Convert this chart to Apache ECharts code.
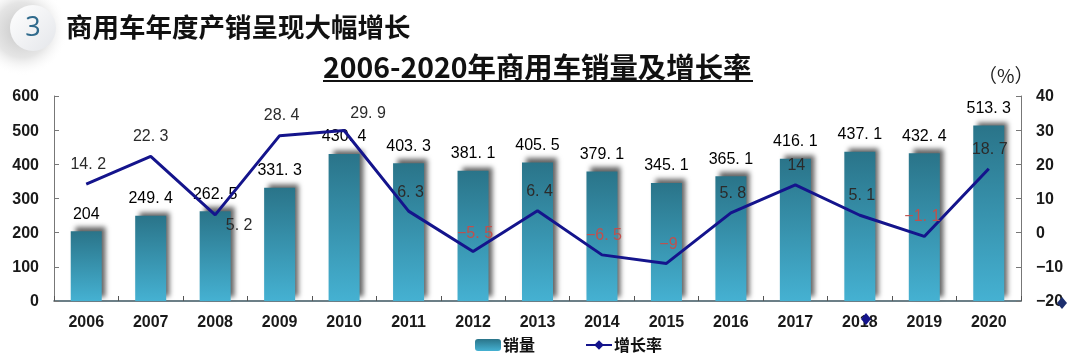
<!DOCTYPE html>
<html><head><meta charset="utf-8">
<style>html,body{margin:0;padding:0;background:#fff}#c{width:1080px;height:358px}</style>
<script src="https://cdn.jsdelivr.net/npm/echarts@6/dist/echarts.min.js"></script>
</head><body><div id="c"></div>
<script>
const years = ['2006','2007','2008','2009','2010','2011','2012','2013','2014','2015','2016','2017','2018','2019','2020'];
const sales = [204,249.4,262.5,331.3,430.4,403.3,381.1,405.5,379.1,345.1,365.1,416.1,437.1,432.4,513.3];
const growth = [14.2,22.3,5.2,28.4,29.9,6.3,-5.5,6.4,-6.5,-9,5.8,14,5.1,-1.1,18.7];
const growthLabelShift = [[2,-20],[0,-20],[24,11],[2,-20],[24,-17],[2,-19],[2,-18],[2,-19],[2,-19],[2,-19],[2,-19],[1,-19],[2,-20],[-2,-20],[1,-19]];
const labelFont = '"Liberation Sans","Arimo",sans-serif';
const sans = '"Noto Sans CJK SC","Liberation Sans",sans-serif';
const axisFont = {fontFamily:'"Liberation Sans",sans-serif',fontWeight:'bold',fontSize:16,color:'#1a1a1a'};
const chart = echarts.init(document.getElementById('c'),null,{renderer:'canvas'});
chart.setOption({
  animation:false,
  backgroundColor:'#fff',
  grid:{left:54,right:59,top:96,bottom:57},
  title:[
    {text:'商用车年度产销呈现大幅增长',left:61,top:9,textStyle:{fontFamily:sans,fontWeight:'bold',fontSize:26.5,color:'#111'}},
    {text:'2006-2020年商用车销量及增长率',left:318,top:48,textStyle:{fontFamily:sans,fontWeight:'bold',fontSize:28.4,color:'#111'}},
    {text:'（%）',left:973,top:61,textStyle:{fontFamily:sans,fontWeight:'normal',fontSize:19,color:'#222'}}
  ],
  legend:{bottom:0,left:470,itemGap:50,itemWidth:26,itemHeight:12,
    textStyle:{fontFamily:sans,fontWeight:'bold',fontSize:16,color:'#111',padding:[0,0,0,-3]},
    data:['销量','增长率']},
  xAxis:{type:'category',data:years,
    axisLine:{lineStyle:{color:'#3d5560',width:1.5}},
    axisTick:{show:true,inside:true,length:5,alignWithLabel:false,lineStyle:{color:'#555'}},
    axisLabel:{...axisFont,margin:14,interval:0}},
  yAxis:[
    {type:'value',min:0,max:600,interval:100,
      axisLine:{show:true,lineStyle:{color:'#777'}},
      axisTick:{show:true,inside:true,length:5,lineStyle:{color:'#777'}},
      splitLine:{show:false},axisLabel:{...axisFont,margin:15,verticalAlign:'top',lineHeight:2}},
    {type:'value',min:-20,max:40,interval:10,position:'right',
      axisLine:{show:true,lineStyle:{color:'#777'}},
      axisTick:{show:true,inside:true,length:5,lineStyle:{color:'#777'}},
      splitLine:{show:false},axisLabel:{...axisFont,margin:15,verticalAlign:'top',lineHeight:2,
        formatter:v=>String(v).replace('-','−')}}
  ],
  series:[
    {name:'销量',type:'bar',yAxisIndex:0,data:sales,barWidth:31,z:2,
      itemStyle:{
        color:new echarts.graphic.LinearGradient(0,0,0,1,[{offset:0,color:'#2a7489'},{offset:1,color:'#45b1d2'}]),
        shadowColor:'rgba(60,60,60,0.8)',shadowBlur:5,shadowOffsetX:4,shadowOffsetY:-4},
      label:{show:true,position:'top',distance:9,fontFamily:labelFont,fontSize:16,color:'#000',
        formatter:p=>String(p.value).replace('.','. ')}},
    {name:'增长率',type:'line',yAxisIndex:1,data:growth.map((v,i)=>({value:v,
        label:{offset:growthLabelShift[i],color:v<0?'#c0504d':'#2b2b2b'}})),
      symbol:'diamond',symbolSize:0,showSymbol:true,z:5,
      lineStyle:{color:'#14148c',width:3},itemStyle:{color:'#14148c'},
      label:{show:true,position:'inside',fontFamily:labelFont,fontSize:16,
        formatter:p=>String(p.value).replace('.','. ').replace('-','−')}}
  ],
  graphic:[
    {type:'circle',z:-2,shape:{cx:22,cy:30,r:46},style:{fill:new echarts.graphic.RadialGradient(0.5,0.5,0.5,[{offset:0,color:'rgba(175,175,175,0.75)'},{offset:0.6,color:'rgba(190,190,190,0.4)'},{offset:1,color:'rgba(255,255,255,0)'}])}},
    {type:'circle',z:-1,shape:{cx:33,cy:28,r:23},style:{fill:new echarts.graphic.LinearGradient(0,0,1,1,[{offset:0,color:'#fff'},{offset:1,color:'#e4e6ea'}])}},
    {type:'text',z:1,style:{x:33,y:28,text:'3',align:'center',verticalAlign:'middle',font:'27px "Open Sans",sans-serif',fill:'#2f6a8c'}},
    {type:'rect',z:1,shape:{x:323,y:80,width:430,height:2},style:{fill:'#111'}},
    {type:'polygon',z:6,shape:{points:[[866,313],[871,319],[866,325],[861,319]]},style:{fill:'#14148c'}},
    {type:'polygon',z:6,shape:{points:[[1062,297],[1067,303],[1062,309],[1057,303]]},style:{fill:'#1c2e6e'}}
  ]
});
</script></body></html>
